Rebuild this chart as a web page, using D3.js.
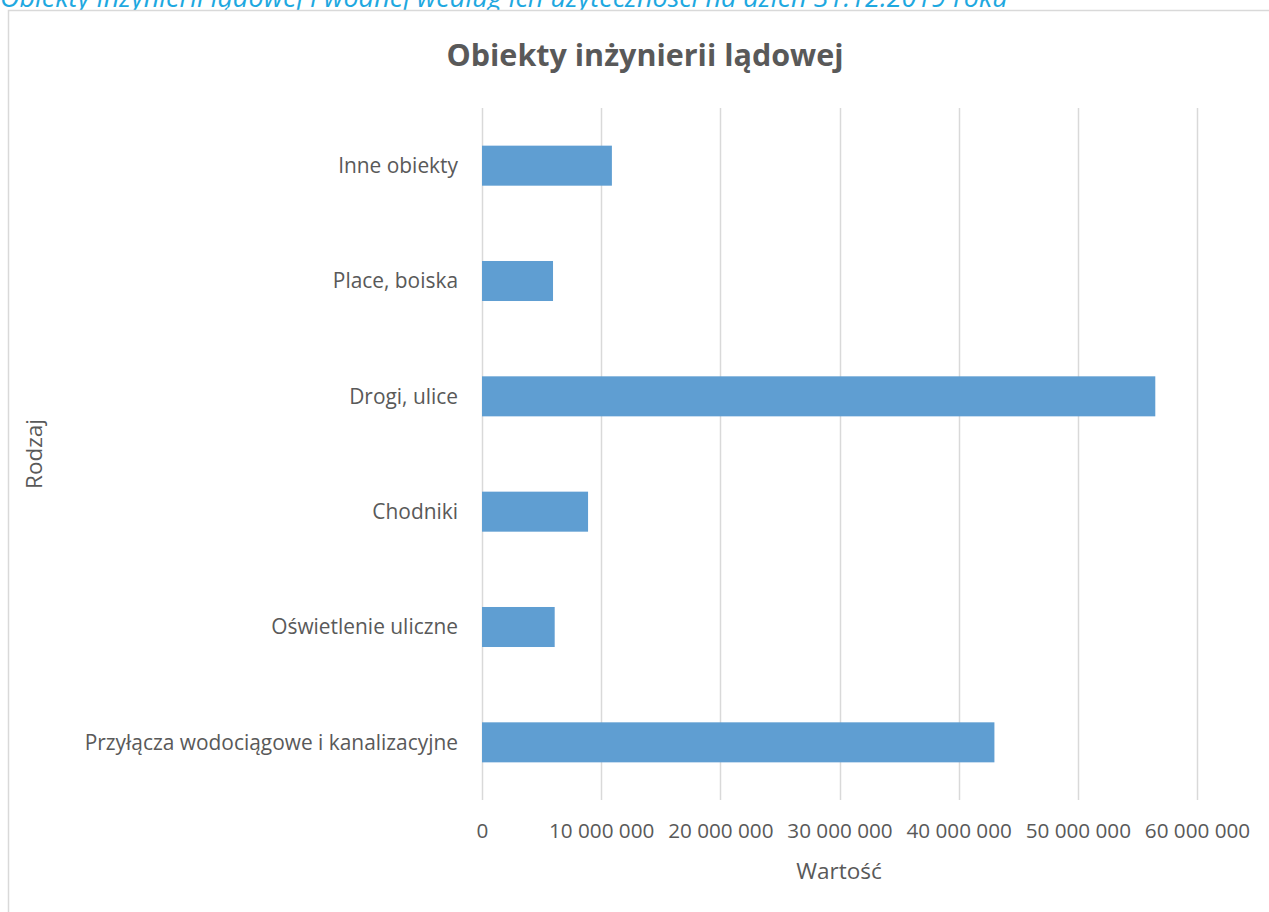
<!DOCTYPE html>
<html><head><meta charset="utf-8">
<script src="https://cdn.jsdelivr.net/npm/d3@7"></script>
<style>
html,body{margin:0;padding:0;background:#fff;overflow:hidden;}
svg{display:block;}
</style></head>
<body>
<script>
const categories = ["Inne obiekty","Place, boiska","Drogi, ulice","Chodniki","Oświetlenie uliczne","Przyłącza wodociągowe i kanalizacyjne"];
const values = [10900000, 5960000, 56500000, 8900000, 6100000, 43000000];
const tickValues = [0,10000000,20000000,30000000,40000000,50000000,60000000];
const tickLabels = ["0","10 000 000","20 000 000","30 000 000","40 000 000","50 000 000","60 000 000"];
const chartTitle = "Obiekty inżynierii lądowej";
const pageHeading = "Obiekty inżynierii lądowej i wodnej według ich użyteczności na dzień 31.12.2019 roku";
const xTitle = "Wartość";
const yTitle = "Rodzaj";

const W = 1269, H = 912;
const font = "'Open Sans', sans-serif";
const svg = d3.select("body").append("svg").attr("width", W).attr("height", H);

svg.append("text").attr("x", 0).attr("y", 7)
  .attr("font-family", font).attr("font-style","italic").attr("font-size", 27)
  .attr("fill", "#1ea8e0").text(pageHeading);

svg.append("rect").attr("x", 8.5).attr("y", 10.5).attr("width", W).attr("height", H)
  .attr("fill","#fff").attr("stroke","#d9d9d9").attr("stroke-width",1.5);

const x = d3.scaleLinear().domain([0, 60000000]).range([482, 1197]);
const y = d3.scaleBand().domain(categories).range([108, 800]).paddingInner(0.653).paddingOuter(0.3265);

// gridlines
svg.append("g").selectAll("line").data(tickValues).join("line")
  .attr("x1", d => Math.round(x(d))+0.5).attr("x2", d => Math.round(x(d))+0.5)
  .attr("y1", 108).attr("y2", 800)
  .attr("stroke", "#d9d9d9").attr("stroke-width", 1.5);

// bars
svg.append("g").selectAll("rect").data(values).join("rect")
  .attr("x", x(0)).attr("y", (d,i) => y(categories[i]))
  .attr("width", d => x(d) - x(0)).attr("height", y.bandwidth())
  .attr("fill", "#5f9ed2");

// x tick labels
const xAxis = d3.axisBottom(x).tickValues(tickValues).tickFormat((d,i) => tickLabels[i]).tickSize(0).tickPadding(0);
const gx = svg.append("g").attr("transform", "translate(0,838)").call(xAxis);
gx.select(".domain").remove();
gx.selectAll("text").attr("font-family", font).attr("font-size", 20.7).attr("fill", "#595959").attr("dy", 0);

// y labels
const yAxis = d3.axisLeft(y).tickSize(0).tickPadding(0);
const gy = svg.append("g").attr("transform", "translate(458,0)").call(yAxis);
gy.select(".domain").remove();
gy.selectAll("text").attr("font-family", font).attr("font-size", 20.9).attr("fill", "#595959").attr("dy", "0.35em");

// titles
svg.append("text").attr("x", 645).attr("y", 66).attr("text-anchor","middle")
  .attr("font-family", font).attr("font-weight","bold").attr("font-size", 30.5)
  .attr("fill", "#595959").text(chartTitle);
svg.append("text").attr("x", 839).attr("y", 879).attr("text-anchor","middle")
  .attr("font-family", font).attr("font-size", 22.5).attr("fill", "#595959").text(xTitle);
svg.append("text").attr("transform","translate(42,454) rotate(-90)").attr("text-anchor","middle")
  .attr("font-family", font).attr("font-size", 22.5).attr("fill", "#595959").text(yTitle);
</script>
</body></html>
